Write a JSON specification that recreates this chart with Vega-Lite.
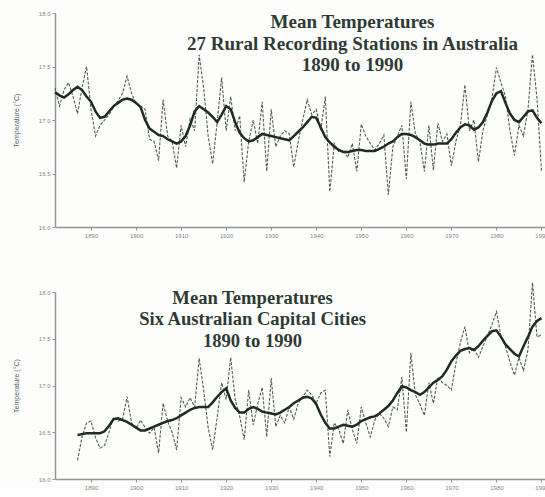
{
  "$schema": "https://vega.github.io/schema/vega-lite/v6.json",
  "background": "#fdfdfc",
  "padding": {"left": 12, "top": 10, "right": 0, "bottom": 0},
  "spacing": 42,
  "config": {
    "view": {"stroke": null},
    "axis": {
      "grid": false,
      "domainColor": "#8e9893",
      "domainWidth": 1.5,
      "tickColor": "#8e9893",
      "tickSize": 3,
      "labelFont": "Liberation Sans",
      "labelFontSize": 6,
      "labelColor": "#7d8783",
      "labelPadding": 2,
      "titleFont": "Liberation Sans",
      "titleFontSize": 7,
      "titleFontWeight": "normal",
      "titleColor": "#56625c"
    },
    "title": {
      "font": "Liberation Serif",
      "fontSize": 19,
      "fontWeight": "bold",
      "color": "#2d3b34",
      "lineHeight": 21.5,
      "anchor": "middle",
      "frame": "group",
      "baseline": "top"
    }
  },
  "datasets": {
    "rural": [
      {"year":1882,"raw":17.30,"smooth":17.26},{"year":1883,"raw":17.13,"smooth":17.23},{"year":1884,"raw":17.28,"smooth":17.21},{"year":1885,"raw":17.35,"smooth":17.24},{"year":1886,"raw":17.22,"smooth":17.28},{"year":1887,"raw":17.06,"smooth":17.31},{"year":1888,"raw":17.30,"smooth":17.28},{"year":1889,"raw":17.50,"smooth":17.22},{"year":1890,"raw":17.10,"smooth":17.17},{"year":1891,"raw":16.85,"smooth":17.08},
      {"year":1892,"raw":16.95,"smooth":17.02},{"year":1893,"raw":17.00,"smooth":17.03},{"year":1894,"raw":17.05,"smooth":17.08},{"year":1895,"raw":17.12,"smooth":17.13},{"year":1896,"raw":17.18,"smooth":17.16},{"year":1897,"raw":17.25,"smooth":17.19},{"year":1898,"raw":17.41,"smooth":17.20},{"year":1899,"raw":17.25,"smooth":17.19},{"year":1900,"raw":17.15,"smooth":17.16},{"year":1901,"raw":17.13,"smooth":17.12},
      {"year":1902,"raw":17.10,"smooth":17.00},{"year":1903,"raw":16.82,"smooth":16.92},{"year":1904,"raw":16.80,"smooth":16.89},{"year":1905,"raw":16.62,"smooth":16.86},{"year":1906,"raw":17.19,"smooth":16.85},{"year":1907,"raw":16.85,"smooth":16.82},{"year":1908,"raw":16.80,"smooth":16.80},{"year":1909,"raw":16.55,"smooth":16.78},{"year":1910,"raw":16.95,"smooth":16.80},{"year":1911,"raw":16.75,"smooth":16.85},
      {"year":1912,"raw":17.01,"smooth":16.95},{"year":1913,"raw":16.90,"smooth":17.08},{"year":1914,"raw":17.61,"smooth":17.13},{"year":1915,"raw":17.30,"smooth":17.10},{"year":1916,"raw":16.85,"smooth":17.07},{"year":1917,"raw":16.59,"smooth":17.03},{"year":1918,"raw":16.98,"smooth":16.98},{"year":1919,"raw":17.40,"smooth":17.05},{"year":1920,"raw":16.90,"smooth":17.13},{"year":1921,"raw":17.22,"smooth":17.10},
      {"year":1922,"raw":16.90,"smooth":16.98},{"year":1923,"raw":17.04,"smooth":16.88},{"year":1924,"raw":16.42,"smooth":16.83},{"year":1925,"raw":16.80,"smooth":16.80},{"year":1926,"raw":17.00,"smooth":16.81},{"year":1927,"raw":16.78,"smooth":16.84},{"year":1928,"raw":17.17,"smooth":16.87},{"year":1929,"raw":16.52,"smooth":16.86},{"year":1930,"raw":17.10,"smooth":16.85},{"year":1931,"raw":16.75,"smooth":16.84},
      {"year":1932,"raw":16.85,"smooth":16.83},{"year":1933,"raw":16.90,"smooth":16.82},{"year":1934,"raw":16.87,"smooth":16.81},{"year":1935,"raw":16.56,"smooth":16.85},{"year":1936,"raw":16.80,"smooth":16.89},{"year":1937,"raw":17.00,"smooth":16.93},{"year":1938,"raw":17.19,"smooth":16.98},{"year":1939,"raw":17.05,"smooth":17.03},{"year":1940,"raw":17.10,"smooth":17.02},{"year":1941,"raw":16.90,"smooth":16.93},
      {"year":1942,"raw":17.22,"smooth":16.84},{"year":1943,"raw":16.33,"smooth":16.79},{"year":1944,"raw":16.78,"smooth":16.75},{"year":1945,"raw":16.70,"smooth":16.72},{"year":1946,"raw":16.72,"smooth":16.70},{"year":1947,"raw":16.65,"smooth":16.70},{"year":1948,"raw":16.78,"smooth":16.71},{"year":1949,"raw":16.52,"smooth":16.72},{"year":1950,"raw":16.96,"smooth":16.72},{"year":1951,"raw":16.85,"smooth":16.71},
      {"year":1952,"raw":16.78,"smooth":16.71},{"year":1953,"raw":16.72,"smooth":16.71},{"year":1954,"raw":16.78,"smooth":16.73},{"year":1955,"raw":16.86,"smooth":16.75},{"year":1956,"raw":16.30,"smooth":16.78},{"year":1957,"raw":16.75,"smooth":16.80},{"year":1958,"raw":16.85,"smooth":16.84},{"year":1959,"raw":16.95,"smooth":16.87},{"year":1960,"raw":16.45,"smooth":16.87},{"year":1961,"raw":17.17,"smooth":16.86},
      {"year":1962,"raw":16.87,"smooth":16.84},{"year":1963,"raw":16.80,"smooth":16.81},{"year":1964,"raw":16.52,"smooth":16.78},{"year":1965,"raw":16.95,"smooth":16.77},{"year":1966,"raw":16.53,"smooth":16.77},{"year":1967,"raw":16.97,"smooth":16.78},{"year":1968,"raw":16.80,"smooth":16.78},{"year":1969,"raw":16.87,"smooth":16.78},{"year":1970,"raw":16.57,"smooth":16.82},{"year":1971,"raw":16.80,"smooth":16.88},
      {"year":1972,"raw":16.95,"smooth":16.93},{"year":1973,"raw":17.33,"smooth":16.96},{"year":1974,"raw":16.90,"smooth":16.95},{"year":1975,"raw":17.00,"smooth":16.91},{"year":1976,"raw":16.61,"smooth":16.93},{"year":1977,"raw":16.90,"smooth":16.98},{"year":1978,"raw":17.05,"smooth":17.07},{"year":1979,"raw":17.20,"smooth":17.18},{"year":1980,"raw":17.49,"smooth":17.25},{"year":1981,"raw":17.35,"smooth":17.27},
      {"year":1982,"raw":17.22,"smooth":17.16},{"year":1983,"raw":16.90,"smooth":17.06},{"year":1984,"raw":16.67,"smooth":17.00},{"year":1985,"raw":16.95,"smooth":16.98},{"year":1986,"raw":16.85,"smooth":17.03},{"year":1987,"raw":17.10,"smooth":17.08},{"year":1988,"raw":17.61,"smooth":17.09},{"year":1989,"raw":17.20,"smooth":17.02},{"year":1990,"raw":16.52,"smooth":16.97}
    ],
    "capital": [
      {"year":1887,"raw":16.20,"smooth":16.47},{"year":1888,"raw":16.45,"smooth":16.48},{"year":1889,"raw":16.60,"smooth":16.49},{"year":1890,"raw":16.62,"smooth":16.49},{"year":1891,"raw":16.44,"smooth":16.49},
      {"year":1892,"raw":16.33,"smooth":16.49},{"year":1893,"raw":16.36,"smooth":16.51},{"year":1894,"raw":16.50,"smooth":16.57},{"year":1895,"raw":16.66,"smooth":16.64},{"year":1896,"raw":16.62,"smooth":16.65},{"year":1897,"raw":16.64,"smooth":16.63},{"year":1898,"raw":16.88,"smooth":16.61},{"year":1899,"raw":16.60,"smooth":16.58},{"year":1900,"raw":16.54,"smooth":16.55},{"year":1901,"raw":16.63,"smooth":16.52},
      {"year":1902,"raw":16.55,"smooth":16.52},{"year":1903,"raw":16.49,"smooth":16.54},{"year":1904,"raw":16.55,"smooth":16.56},{"year":1905,"raw":16.28,"smooth":16.58},{"year":1906,"raw":16.81,"smooth":16.60},{"year":1907,"raw":16.62,"smooth":16.62},{"year":1908,"raw":16.50,"smooth":16.63},{"year":1909,"raw":16.31,"smooth":16.65},{"year":1910,"raw":16.87,"smooth":16.68},{"year":1911,"raw":16.77,"smooth":16.71},
      {"year":1912,"raw":16.87,"smooth":16.74},{"year":1913,"raw":16.77,"smooth":16.76},{"year":1914,"raw":17.29,"smooth":16.77},{"year":1915,"raw":16.95,"smooth":16.77},{"year":1916,"raw":16.55,"smooth":16.77},{"year":1917,"raw":16.31,"smooth":16.82},{"year":1918,"raw":16.66,"smooth":16.88},{"year":1919,"raw":17.03,"smooth":16.93},{"year":1920,"raw":16.85,"smooth":16.97},{"year":1921,"raw":17.30,"smooth":16.84},
      {"year":1922,"raw":16.85,"smooth":16.76},{"year":1923,"raw":16.67,"smooth":16.71},{"year":1924,"raw":16.42,"smooth":16.71},{"year":1925,"raw":16.95,"smooth":16.75},{"year":1926,"raw":16.58,"smooth":16.77},{"year":1927,"raw":16.80,"smooth":16.75},{"year":1928,"raw":16.98,"smooth":16.72},{"year":1929,"raw":16.45,"smooth":16.71},{"year":1930,"raw":17.08,"smooth":16.70},{"year":1931,"raw":16.56,"smooth":16.69},
      {"year":1932,"raw":16.68,"smooth":16.71},{"year":1933,"raw":16.60,"smooth":16.74},{"year":1934,"raw":16.77,"smooth":16.77},{"year":1935,"raw":16.64,"smooth":16.81},{"year":1936,"raw":16.81,"smooth":16.84},{"year":1937,"raw":16.88,"smooth":16.87},{"year":1938,"raw":16.95,"smooth":16.88},{"year":1939,"raw":16.90,"smooth":16.86},{"year":1940,"raw":16.81,"smooth":16.80},{"year":1941,"raw":16.92,"smooth":16.69},
      {"year":1942,"raw":16.95,"smooth":16.60},{"year":1943,"raw":16.24,"smooth":16.54},{"year":1944,"raw":16.60,"smooth":16.54},{"year":1945,"raw":16.53,"smooth":16.56},{"year":1946,"raw":16.38,"smooth":16.58},{"year":1947,"raw":16.74,"smooth":16.57},{"year":1948,"raw":16.53,"smooth":16.56},{"year":1949,"raw":16.38,"smooth":16.58},{"year":1950,"raw":16.77,"smooth":16.62},{"year":1951,"raw":16.60,"smooth":16.64},
      {"year":1952,"raw":16.45,"smooth":16.66},{"year":1953,"raw":16.63,"smooth":16.67},{"year":1954,"raw":16.70,"smooth":16.70},{"year":1955,"raw":16.65,"smooth":16.74},{"year":1956,"raw":16.56,"smooth":16.78},{"year":1957,"raw":16.77,"smooth":16.84},{"year":1958,"raw":16.74,"smooth":16.92},{"year":1959,"raw":17.09,"smooth":16.99},{"year":1960,"raw":16.50,"smooth":16.98},{"year":1961,"raw":17.35,"smooth":16.95},
      {"year":1962,"raw":16.90,"smooth":16.93},{"year":1963,"raw":16.80,"smooth":16.90},{"year":1964,"raw":16.68,"smooth":16.93},{"year":1965,"raw":17.03,"smooth":16.98},{"year":1966,"raw":16.81,"smooth":17.03},{"year":1967,"raw":17.09,"smooth":17.06},{"year":1968,"raw":17.03,"smooth":17.10},{"year":1969,"raw":17.00,"smooth":17.17},{"year":1970,"raw":16.95,"smooth":17.26},{"year":1971,"raw":17.24,"smooth":17.32},
      {"year":1972,"raw":17.46,"smooth":17.37},{"year":1973,"raw":17.63,"smooth":17.39},{"year":1974,"raw":17.35,"smooth":17.40},{"year":1975,"raw":17.40,"smooth":17.38},{"year":1976,"raw":17.30,"smooth":17.42},{"year":1977,"raw":17.42,"smooth":17.48},{"year":1978,"raw":17.53,"smooth":17.53},{"year":1979,"raw":17.65,"smooth":17.58},{"year":1980,"raw":17.79,"smooth":17.59},{"year":1981,"raw":17.53,"smooth":17.52},
      {"year":1982,"raw":17.42,"smooth":17.44},{"year":1983,"raw":17.25,"smooth":17.39},{"year":1984,"raw":17.11,"smooth":17.34},{"year":1985,"raw":17.30,"smooth":17.31},{"year":1986,"raw":17.16,"smooth":17.42},{"year":1987,"raw":17.38,"smooth":17.52},{"year":1988,"raw":18.10,"smooth":17.63},{"year":1989,"raw":17.52,"smooth":17.69},{"year":1990,"raw":17.54,"smooth":17.72}
    ]
  },
  "vconcat": [
    {
      "width": 491,
      "height": 214,
      "data": {"name": "rural"},
      "title": {"text": ["Mean Temperatures", "27 Rural Recording Stations in  Australia", "1890 to 1990"], "offset": -65, "dx": 52},
      "encoding": {
        "x": {"field": "year", "type": "quantitative", "scale": {"domain": [1882, 1991], "nice": false, "zero": false},
              "axis": {"title": null, "values": [1890,1900,1910,1920,1930,1940,1950,1960,1970,1980,1990], "format": "d"}},
        "y": {"type": "quantitative", "scale": {"domain": [16, 18], "nice": false, "zero": false},
              "axis": {"title": "Temperature (°C)", "values": [16, 16.5, 17, 17.5, 18], "format": ".1f", "titlePadding": 19}}
      },
      "layer": [
        {"mark": {"type": "line", "color": "#4f5d57", "strokeWidth": 1.1, "strokeDash": [3, 1.5]}, "encoding": {"y": {"field": "raw", "type": "quantitative"}}},
        {"mark": {"type": "line", "color": "#1f2b25", "strokeWidth": 2.5}, "encoding": {"y": {"field": "smooth", "type": "quantitative"}}}
      ]
    },
    {
      "width": 491,
      "height": 187,
      "data": {"name": "capital"},
      "title": {"text": ["Mean Temperatures", "Six Australian Capital Cities", "1890 to 1990"], "offset": -70, "dx": -48, "fontSize": 18.6},
      "encoding": {
        "x": {"field": "year", "type": "quantitative", "scale": {"domain": [1882, 1991], "nice": false, "zero": false},
              "axis": {"title": null, "values": [1890,1900,1910,1920,1930,1940,1950,1960,1970,1980,1990], "format": "d"}},
        "y": {"type": "quantitative", "scale": {"domain": [16, 18], "nice": false, "zero": false},
              "axis": {"title": "Temperature (°C)", "values": [16, 16.5, 17, 17.5, 18], "format": ".1f", "titlePadding": 19}}
      },
      "layer": [
        {"mark": {"type": "line", "color": "#4f5d57", "strokeWidth": 1.1, "strokeDash": [3, 1.5]}, "encoding": {"y": {"field": "raw", "type": "quantitative"}}},
        {"mark": {"type": "line", "color": "#1f2b25", "strokeWidth": 2.5}, "encoding": {"y": {"field": "smooth", "type": "quantitative"}}}
      ]
    }
  ]
}
